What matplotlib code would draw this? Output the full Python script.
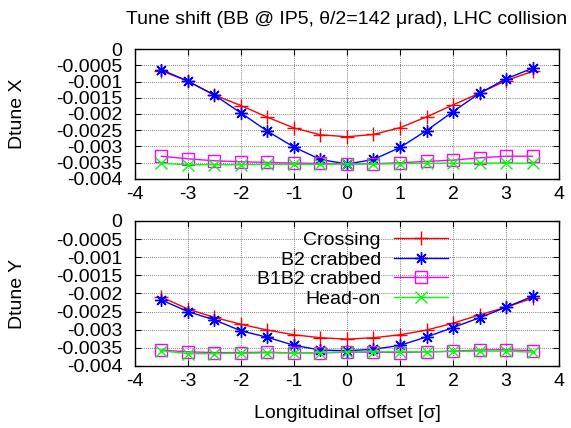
import matplotlib
matplotlib.use("Agg")
import matplotlib.pyplot as plt
from matplotlib.ticker import FuncFormatter, MultipleLocator

plt.rcParams['font.family'] = ['Liberation Sans', 'DejaVu Sans']
plt.rcParams['axes.unicode_minus'] = False

# longitudinal offset [sigma]
offset = [-3.5, -3.0, -2.5, -2.0, -1.5, -1.0, -0.5, 0.0, 0.5, 1.0, 1.5, 2.0, 2.5, 3.0, 3.5]

# horizontal tune shift
crossing_x = [-0.00067, -0.00099, -0.00142, -0.00174, -0.00210, -0.00243, -0.00264, -0.00270,
              -0.00263, -0.00242, -0.00209, -0.00172, -0.00136, -0.00097, -0.00069]
b2_crab_x = [-0.00064, -0.00099, -0.00142, -0.00197, -0.00253, -0.00302, -0.00340, -0.00354,
             -0.00340, -0.00303, -0.00251, -0.00193, -0.00136, -0.00092, -0.00059]
b1b2_crab_x = [-0.00330, -0.00338, -0.00344, -0.00347, -0.00349, -0.00351, -0.00352, -0.00354,
               -0.00353, -0.00350, -0.00346, -0.00342, -0.00335, -0.00330, -0.00330]
headon_x = [-0.00352, -0.00356, -0.00356, -0.00356, -0.00355, -0.00355, -0.00355, -0.00354,
            -0.00354, -0.00353, -0.00352, -0.00351, -0.00351, -0.00351, -0.00352]

# vertical tune shift
crossing_y = [-0.00210, -0.00243, -0.00266, -0.00285, -0.00301, -0.00314, -0.00322, -0.00326,
              -0.00322, -0.00314, -0.00301, -0.00282, -0.00259, -0.00238, -0.00213]
b2_crab_y = [-0.00218, -0.00250, -0.00273, -0.00303, -0.00321, -0.00343, -0.00356, -0.00358,
             -0.00354, -0.00343, -0.00320, -0.00294, -0.00267, -0.00238, -0.00208]
b1b2_crab_y = [-0.00356, -0.00361, -0.00363, -0.00363, -0.00362, -0.00364, -0.00364, -0.00362,
               -0.00362, -0.00363, -0.00361, -0.00359, -0.00356, -0.00355, -0.00358]
headon_y = [-0.00358, -0.00366, -0.00366, -0.00365, -0.00364, -0.00364, -0.00363, -0.00361,
            -0.00361, -0.00361, -0.00361, -0.00360, -0.00359, -0.00359, -0.00362]

labels = ["Crossing", "B2 crabbed", "B1B2 crabbed", "Head-on"]
colors = ["#ff0000", "#0000ff", "#ff00ff", "#00ff00"]
markers = ["+", (8, 2, 0), "s", "x"]
msizes = [10, 9, 8, 8]

fig = plt.figure(figsize=(5.71, 4.28), dpi=100)
ax1 = fig.add_axes([0.2364, 0.5818, 0.7426, 0.3037])
ax2 = fig.add_axes([0.2364, 0.1449, 0.7426, 0.3388])

fmt = FuncFormatter(lambda v, pos: '%g' % round(v, 6))

for ax, series in ((ax1, (crossing_x, b2_crab_x, b1b2_crab_x, headon_x)),
                   (ax2, (crossing_y, b2_crab_y, b1b2_crab_y, headon_y))):
    for vals, lab, c, m, ms in zip(series, labels, colors, markers, msizes):
        ax.plot(offset, vals, color=c, lw=1.0, marker=m, ms=ms, mew=1.0,
                fillstyle='none', label=lab)
    ax.set_xlim(-4, 4)
    ax.set_ylim(-0.004, 0)
    ax.xaxis.set_major_locator(MultipleLocator(1))
    ax.yaxis.set_major_locator(MultipleLocator(0.0005))
    ax.yaxis.set_major_formatter(fmt)
    ax.grid(True, color='#555555', lw=0.6, ls=(0, (1, 1.5)))
    ax.tick_params(direction='in', top=True, right=True, length=4, width=0.8,
                   labelsize=14, pad=5)
    ax.tick_params(axis='y', pad=9)
    for s in ax.spines.values():
        s.set_linewidth(1.0)

ax2.legend(loc='upper right', bbox_to_anchor=(0.738, 0.927), markerfirst=False,
           frameon=False, fontsize=14, handlelength=2.75, handletextpad=0.7,
           labelspacing=0.1, borderpad=0, borderaxespad=0)

fig.text(347 / 571, 1 - 20 / 428, "Tune shift (BB @ IP5, θ/2=142 μrad), LHC collision",
         ha='center', va='center', fontsize=14)
fig.text(17 / 571, 1 - 114 / 428, "Dtune X", rotation=90, ha='center', va='center', fontsize=14)
fig.text(17 / 571, 1 - 294 / 428, "Dtune Y", rotation=90, ha='center', va='center', fontsize=14)
fig.text(347 / 571, 1 - 413 / 428, "Longitudinal offset [σ]", ha='center', va='center', fontsize=14)

fig.savefig("out.png", dpi=100)
